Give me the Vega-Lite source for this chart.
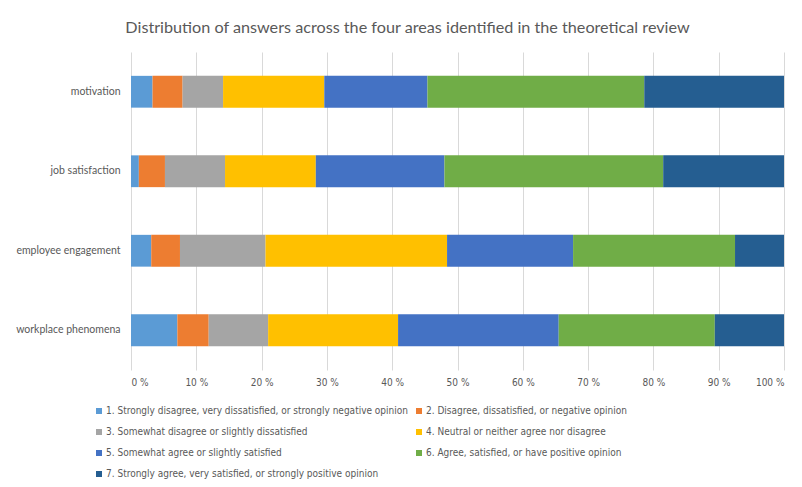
{
  "$schema": "https://vega.github.io/schema/vega-lite/v6.json",
  "width": 653,
  "height": 318,
  "autosize": {"type": "none"},
  "padding": {"left": 131, "top": 52, "right": 18, "bottom": 117},
  "background": "white",
  "title": {
    "text": "Distribution of answers across the four areas identified in the theoretical review",
    "anchor": "middle",
    "dx": -50,
    "offset": 16,
    "fontSize": 16.2,
    "font": "Lato",
    "fontWeight": "normal",
    "color": "#595959"
  },
  "data": {
    "values": [
      {"area": "motivation", "answer": "1. Strongly disagree, very dissatisfied, or strongly negative opinion", "k": 1, "pct": 3.3},
      {"area": "motivation", "answer": "2. Disagree, dissatisfied, or negative opinion", "k": 2, "pct": 4.6},
      {"area": "motivation", "answer": "3. Somewhat disagree or slightly dissatisfied", "k": 3, "pct": 6.2},
      {"area": "motivation", "answer": "4. Neutral or neither agree nor disagree", "k": 4, "pct": 15.5},
      {"area": "motivation", "answer": "5. Somewhat agree or slightly satisfied", "k": 5, "pct": 15.8},
      {"area": "motivation", "answer": "6. Agree, satisfied, or have positive opinion", "k": 6, "pct": 33.2},
      {"area": "motivation", "answer": "7. Strongly agree, very satisfied, or strongly positive opinion", "k": 7, "pct": 21.4},
      {"area": "job satisfaction", "answer": "1. Strongly disagree, very dissatisfied, or strongly negative opinion", "k": 1, "pct": 1.2},
      {"area": "job satisfaction", "answer": "2. Disagree, dissatisfied, or negative opinion", "k": 2, "pct": 4.0},
      {"area": "job satisfaction", "answer": "3. Somewhat disagree or slightly dissatisfied", "k": 3, "pct": 9.2},
      {"area": "job satisfaction", "answer": "4. Neutral or neither agree nor disagree", "k": 4, "pct": 13.9},
      {"area": "job satisfaction", "answer": "5. Somewhat agree or slightly satisfied", "k": 5, "pct": 19.7},
      {"area": "job satisfaction", "answer": "6. Agree, satisfied, or have positive opinion", "k": 6, "pct": 33.5},
      {"area": "job satisfaction", "answer": "7. Strongly agree, very satisfied, or strongly positive opinion", "k": 7, "pct": 18.5},
      {"area": "employee engagement", "answer": "1. Strongly disagree, very dissatisfied, or strongly negative opinion", "k": 1, "pct": 3.1},
      {"area": "employee engagement", "answer": "2. Disagree, dissatisfied, or negative opinion", "k": 2, "pct": 4.4},
      {"area": "employee engagement", "answer": "3. Somewhat disagree or slightly dissatisfied", "k": 3, "pct": 13.1},
      {"area": "employee engagement", "answer": "4. Neutral or neither agree nor disagree", "k": 4, "pct": 27.8},
      {"area": "employee engagement", "answer": "5. Somewhat agree or slightly satisfied", "k": 5, "pct": 19.3},
      {"area": "employee engagement", "answer": "6. Agree, satisfied, or have positive opinion", "k": 6, "pct": 24.8},
      {"area": "employee engagement", "answer": "7. Strongly agree, very satisfied, or strongly positive opinion", "k": 7, "pct": 7.5},
      {"area": "workplace phenomena", "answer": "1. Strongly disagree, very dissatisfied, or strongly negative opinion", "k": 1, "pct": 7.1},
      {"area": "workplace phenomena", "answer": "2. Disagree, dissatisfied, or negative opinion", "k": 2, "pct": 4.8},
      {"area": "workplace phenomena", "answer": "3. Somewhat disagree or slightly dissatisfied", "k": 3, "pct": 9.1},
      {"area": "workplace phenomena", "answer": "4. Neutral or neither agree nor disagree", "k": 4, "pct": 19.9},
      {"area": "workplace phenomena", "answer": "5. Somewhat agree or slightly satisfied", "k": 5, "pct": 24.6},
      {"area": "workplace phenomena", "answer": "6. Agree, satisfied, or have positive opinion", "k": 6, "pct": 23.9},
      {"area": "workplace phenomena", "answer": "7. Strongly agree, very satisfied, or strongly positive opinion", "k": 7, "pct": 10.6}
    ]
  },
  "mark": {"type": "bar"},
  "encoding": {
    "y": {
      "field": "area",
      "type": "nominal",
      "sort": ["motivation", "job satisfaction", "employee engagement", "workplace phenomena"],
      "scale": {"paddingInner": 0.6, "paddingOuter": 0.3},
      "axis": {
        "title": null,
        "domain": false,
        "ticks": false,
        "labelPadding": 11,
        "labelFontSize": 10.5,
        "labelFont": "Lato",
        "labelColor": "#595959"
      }
    },
    "x": {
      "field": "pct",
      "type": "quantitative",
      "stack": "zero",
      "scale": {"domain": [0, 100], "nice": false},
      "axis": {
        "title": null,
        "values": [0, 10, 20, 30, 40, 50, 60, 70, 80, 90, 100],
        "labelExpr": "datum.value + ' %'",
        "domain": false,
        "ticks": false,
        "grid": true,
        "gridColor": "#d9d9d9",
        "labelPadding": 7,
        "labelFontSize": 10,
        "labelFont": "Liberation Sans Narrow, DejaVu Sans Condensed, sans-serif",
        "labelColor": "#595959"
      }
    },
    "order": {"field": "k", "type": "quantitative", "sort": "ascending"},
    "color": {
      "field": "answer",
      "type": "nominal",
      "sort": [
        "1. Strongly disagree, very dissatisfied, or strongly negative opinion",
        "3. Somewhat disagree or slightly dissatisfied",
        "5. Somewhat agree or slightly satisfied",
        "7. Strongly agree, very satisfied, or strongly positive opinion",
        "2. Disagree, dissatisfied, or negative opinion",
        "4. Neutral or neither agree nor disagree",
        "6. Agree, satisfied, or have positive opinion"
      ],
      "scale": {
        "range": ["#5B9BD5", "#A5A5A5", "#4472C4", "#255E91", "#ED7D31", "#FFC000", "#70AD47"]
      },
      "legend": {
        "title": null,
        "orient": "none",
        "legendX": -37,
        "legendY": 354,
        "columns": 2,
        "gridAlign": "all",
        "columnPadding": 6,
        "rowPadding": 11,
        "symbolType": "square",
        "symbolSize": 36,
        "symbolStrokeWidth": 0,
        "labelOffset": 2,
        "labelLimit": 400,
        "labelFontSize": 10,
        "labelFont": "Liberation Sans Narrow, DejaVu Sans Condensed, sans-serif",
        "labelColor": "#595959"
      }
    }
  },
  "config": {
    "view": {"stroke": null}
  }
}
